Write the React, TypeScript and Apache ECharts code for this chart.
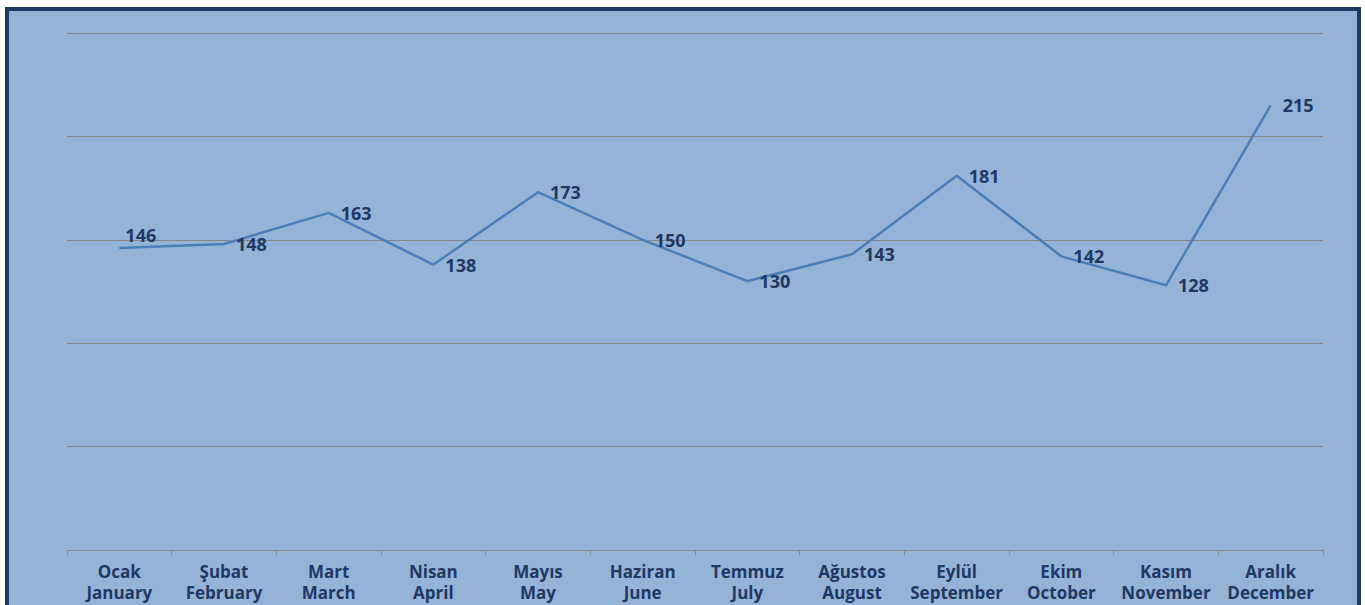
import React, { useEffect, useRef } from "react";
import * as echarts from "echarts";

const monthsTr = ["Ocak", "Şubat", "Mart", "Nisan", "Mayıs", "Haziran", "Temmuz", "Ağustos", "Eylül", "Ekim", "Kasım", "Aralık"];
const monthsEn = ["January", "February", "March", "April", "May", "June", "July", "August", "September", "October", "November", "December"];
const values = [146, 148, 163, 138, 173, 150, 130, 143, 181, 142, 128, 215];

export default function App() {
  const ref = useRef<HTMLDivElement>(null);
  useEffect(() => {
    if (!ref.current) return;
    const chart = echarts.init(ref.current, undefined, { renderer: "svg" });
    const categories = monthsTr.map((t, i) => t + "\n" + monthsEn[i]);
    chart.setOption({
      animation: false,
      grid: { left: 67, right: 42, top: 33, bottom: 55, outerBoundsMode: "none", containLabel: false },
      xAxis: {
        type: "category",
        data: categories,
        boundaryGap: true,
        axisLine: { lineStyle: { color: "#8c8c8c", width: 1 } },
        axisTick: { show: true, length: 5, lineStyle: { color: "#8c8c8c" } },
        axisLabel: {
          interval: 0,
          color: "#1f3864",
          fontFamily: "Open Sans",
          fontWeight: "bold",
          fontSize: 17,
          lineHeight: 21,
          margin: 11,
        },
      },
      yAxis: {
        type: "value",
        min: 0,
        max: 250,
        interval: 50,
        axisLabel: { show: false },
        axisLine: { show: false },
        axisTick: { show: false },
        splitLine: { lineStyle: { color: "#868686", width: 1 } },
      },
      series: [
        {
          type: "line",
          data: values.map((v, i) =>
            i === 0
              ? { value: v, label: { show: true, position: [7, -21], align: "left", verticalAlign: "top" } }
              : v
          ),
          symbol: "circle",
          symbolSize: 2,
          showSymbol: true,
          itemStyle: { color: "rgba(0,0,0,0)", borderWidth: 0 },
          lineStyle: { color: "#4a7ebb", width: 2.5 },
          label: {
            show: true,
            position: "right",
            distance: 11,
            color: "#1f3864",
            fontFamily: "Open Sans",
            fontWeight: "bold",
            fontSize: 18,
          },
          labelLayout: { hideOverlap: false },
        },
      ],
    });
    return () => chart.dispose();
  }, []);
  return (
    <div style={{ position: "fixed", left: 0, top: 0, width: 1365, height: 605, background: "#ffffff", overflow: "hidden" }}>
      <div
        style={{
          position: "absolute",
          left: 5,
          top: 7,
          width: 1348,
          height: 640,
          border: "4px solid #203864",
          background: "#95b3d7",
        }}
      />
      <div ref={ref} style={{ position: "absolute", left: 0, top: 0, width: 1365, height: 605 }} />
    </div>
  );
}
